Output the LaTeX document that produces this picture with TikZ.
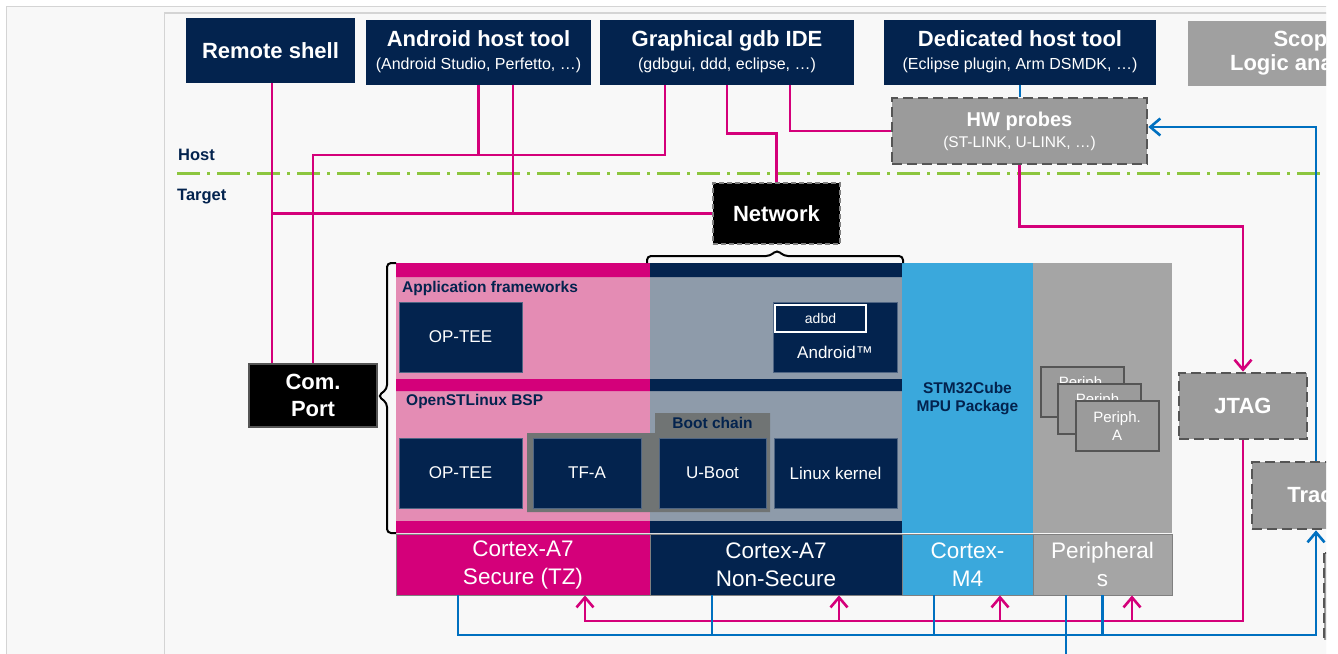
\documentclass[tikz,border=0pt]{standalone}
\usepackage{fontspec}
\setmainfont{Liberation Sans}
\usetikzlibrary{arrows.meta}
\definecolor{stnavy}{RGB}{3,35,78}
\definecolor{stpink}{RGB}{212,0,122}
\definecolor{lightpink}{RGB}{228,140,180}
\definecolor{slateblue}{RGB}{142,155,170}
\definecolor{cubeblue}{RGB}{58,168,220}
\definecolor{periphgray}{RGB}{165,165,165}
\definecolor{probegray}{RGB}{155,155,155}
\definecolor{scopegray}{RGB}{160,160,160}
\definecolor{bootgray}{RGB}{112,116,116}
\definecolor{edgegray}{RGB}{85,85,85}
\definecolor{hostgreen}{RGB}{140,198,63}
\definecolor{linkblue}{RGB}{0,112,192}
\definecolor{panelgray}{RGB}{248,248,248}
\definecolor{framegray}{RGB}{212,212,212}
\newcommand{\toolname}[1]{{\bfseries\fontsize{22}{24}\selectfont #1}}
\newcommand{\toolsub}[1]{{\fontsize{16}{18}\selectfont #1}}

\begin{document}
\begin{tikzpicture}[x=1pt,y=-1pt,
  tool/.style={fill=stnavy,text=white,align=center,inner sep=0pt,minimum height=65pt,
    font=\fontsize{16}{23}\selectfont},
  probe/.style={fill=probegray,draw=edgegray,line width=2.6pt,dash pattern=on 10pt off 5pt,
    text=white,align=center,inner sep=0pt,font=\bfseries\fontsize{22}{26}\selectfont},
  sw/.style={fill=stnavy,draw=stnavy!70!white,line width=0.8pt,text=white,inner sep=0pt,
    minimum height=70pt,font=\fontsize{17}{20}\selectfont},
  core/.style={draw=gray,line width=0.8pt,text=white,align=center,inner sep=0pt,
    minimum height=61pt,font=\fontsize{22.5}{28}\selectfont},
  tag/.style={text=stnavy,inner sep=0pt,font=\bfseries\fontsize{15.5}{18}\selectfont},
  pbox/.style={fill=probegray,draw=edgegray,line width=2pt,text=white,align=center,
    minimum width=83pt,minimum height=50pt,inner sep=0pt,font=\fontsize{15}{18}\selectfont},
  mag/.style={stpink,line width=2.6pt},
  lnk/.style={linkblue,line width=2.6pt},
  arr/.style={-{Straight Barb[length=10pt,width=17pt]}}
]
  \useasboundingbox (0,0) rectangle (1338,653);
  \fill[white] (0,0) rectangle (1338,653);
  \begin{scope}
  \clip (0,0) rectangle (1326,653);
  % frames:
  \draw[framegray,fill=panelgray,line width=1.2pt] (6.5,6.5) rectangle (1400,700);
  \draw[framegray,fill=panelgray,line width=1.2pt] (164.5,13) rectangle (1400,700);

  % host / target split:
  \draw[hostgreen,line width=3pt,dash pattern=on 23pt off 7pt on 3pt off 7pt] (177,173) -- (1330,173);
  \node[tag,anchor=west,font=\bfseries\fontsize{16.5}{20}\selectfont] (hostlbl) at (178,155) {Host};
  \node[tag,anchor=west,font=\bfseries\fontsize{16.5}{20}\selectfont] (targetlbl) at (177,197) {Target};

  % columns:
  \fill[lightpink] (396,263) rectangle (650,533);
  \fill[stpink] (396,263) rectangle (650,277) (396,379) rectangle (650,391) (396,521) rectangle (650,533);
  \fill[slateblue] (650,263) rectangle (902,533);
  \fill[stnavy] (650,263) rectangle (902,277) (650,379) rectangle (902,391) (650,521) rectangle (902,533);
  \fill[cubeblue] (902,263) rectangle (1033,533);
  \fill[periphgray] (1033,263) rectangle (1172,533);
  \fill[bootgray] (527,433) -- (655,433) -- (655,413) -- (770,413) -- (770,512) -- (527,512) -- cycle;

  \node[tag,anchor=west] (appfw) at (402,288) {Application frameworks};
  \node[tag,anchor=west] (bsp) at (406,401) {OpenSTLinux BSP};
  \node[tag] (bootlbl) at (712.5,423) {Boot chain};
  \node[tag,align=center] (cube) at (967.5,399) {STM32Cube\\MPU Package};

  \node[sw,minimum width=123pt] (optee1) at (460.5,337) {OP-TEE};
  \node[sw,minimum width=124pt] (android) at (835,337) {};
  \node[text=white,inner sep=0pt,font=\fontsize{17}{20}\selectfont] (androidtxt) at (835,352) {Android™};
  \node[fill=stnavy,draw=white,line width=2.5pt,text=white,inner sep=0pt,minimum width=91pt,
    minimum height=27pt,font=\fontsize{14}{16}\selectfont] (adbd) at (820.5,318.5) {adbd};
  \node[sw,minimum width=123pt] (optee2) at (460.5,473) {OP-TEE};
  \node[sw,minimum width=108pt] (tfa) at (587,473) {TF-A};
  \node[sw,minimum width=107pt] (uboot) at (712.5,473) {U-Boot};
  \node[sw,minimum width=123pt] (kernel) at (835.5,473) {Linux kernel};

  \node[pbox] (periph1) at (1082.5,391.5) {Periph.\\A};
  \node[pbox] (periph2) at (1099.5,408.5) {Periph.\\A};
  \node[pbox] (periph3) at (1117,426) {Periph.\\A};

  \node[core,fill=stpink,minimum width=254pt] (a7s) at (523,564.5) {Cortex-A7\\Secure (TZ)};
  \node[core,fill=stnavy,minimum width=252pt] (a7n) at (776,564.5) {Cortex-A7\\Non-Secure};
  \node[core,fill=cubeblue,minimum width=131pt] (m4) at (967.5,564.5) {Cortex-\\M4};
  \node[core,fill=periphgray,minimum width=139pt] (pcore) at (1102.5,564.5) {Peripheral\\s};

  % braces:
  \draw[line width=2pt,rounded corners=4pt] (396,263) -- (387,263) -- (387,389) -- (378,396)
    -- (387,403) -- (387,533) -- (396,533);
  \draw[line width=2pt,rounded corners=4pt] (647,263) -- (647,256) -- (770,256) -- (777,250)
    -- (784,256) -- (903,256) -- (903,263);

  % host side:
  \node[tool,minimum width=169pt,font=\bfseries\fontsize{22}{26}\selectfont] (rshell) at (270.5,50.5) {Remote shell};
  \node[tool,minimum width=225pt] (ahost) at (478.5,52) {\toolname{Android host tool}\\\toolsub{(Android Studio, Perfetto, …)}};
  \node[tool,minimum width=254pt] (gdbide) at (727,52) {\toolname{Graphical gdb IDE}\\\toolsub{(gdbgui, ddd, eclipse, …)}};
  \node[tool,minimum width=272pt] (dhost) at (1020,52) {\toolname{Dedicated host tool}\\\toolsub{(Eclipse plugin, Arm DSMDK, …)}};
  \node[tool,fill=scopegray,minimum width=237pt,font=\bfseries\fontsize{22}{24}\selectfont] (scope) at (1306.5,53) {Scope\\Logic analyzer};
  \node[probe,minimum width=255pt,minimum height=66pt,font=\fontsize{15.5}{21}\selectfont] (hwprobe) at (1019.5,131)
    {{\bfseries\fontsize{20}{22}\selectfont HW probes}\\{\fontsize{15.5}{18}\selectfont (ST-LINK, U-LINK, …)}};

  % target side:
  \node[fill=black,draw=gray,line width=2.4pt,dash pattern=on 5pt off 3pt,text=white,inner sep=0pt,
    minimum width=127pt,minimum height=61pt,font=\bfseries\fontsize{22}{26}\selectfont] (network) at (776.5,213.5) {Network};
  \node[fill=black,draw=edgegray,line width=2.5pt,text=white,align=center,inner sep=0pt,
    minimum width=128pt,minimum height=63pt,font=\bfseries\fontsize{22}{27}\selectfont] (comport) at (313,395.5) {Com.\\Port};
  \node[probe,minimum width=128pt,minimum height=66pt] (jtag) at (1243,406) {JTAG};
  \node[probe,minimum width=128pt,minimum height=67pt] (trace) at (1316,495.5) {Trace};
  \draw[probe] (1324,553) rectangle (1460,640);

  \coordinate (hostbus) at (0,155);
  \coordinate (netbus) at (0,213.5);
  \coordinate (coremag) at (0,621);
  \coordinate (corelnk) at (0,635);

  \begin{scope}[mag]
    % shell, adb and gdb:
    \draw ([xshift=1.5pt]rshell.south) -- ([xshift=1.5pt]rshell.south |- comport.north);
    \draw ([xshift=-62pt]gdbide.south) |- (comport.north |- hostbus) -- (comport.north);
    \draw (ahost.south) -- (ahost.south |- hostbus);
    \draw ([xshift=34.5pt]ahost.south) -- ([xshift=34.5pt]ahost.south |- netbus);
    \draw ([xshift=1.5pt]rshell.south |- netbus) -- (network.west);
    \draw (gdbide.south) -- ++(0,48.5) -| (network.north);
    \draw ([xshift=63pt]gdbide.south) |- (hwprobe.west);
    % probe to cores:
    \draw[arr] (hwprobe.south) -- ++(0,61) -| (jtag.north);
    \draw[arr] (jtag.south) |- ([xshift=62pt]a7s.south |- coremag) -- ([xshift=62pt]a7s.south);
    \foreach \c/\dx in {a7n/63,m4/32.5,pcore/29.5}
      \draw[arr] ([xshift=\dx pt]\c.south |- coremag) -- ([xshift=\dx pt]\c.south);
  \end{scope}
  \begin{scope}[lnk]
    % trace:
    \draw (dhost.south) -- (dhost.south |- hwprobe.north);
    \draw[arr] (trace.north) |- ([yshift=4pt]hwprobe.east);
    \draw[arr] ([xshift=-65pt]a7s.south) |- (trace.south |- corelnk) -- (trace.south);
    \foreach \c/\dx in {a7n/-64,m4/-33.5,pcore/0}
      \draw ([xshift=\dx pt]\c.south) -- ([xshift=\dx pt]\c.south |- corelnk);
    \draw ([xshift=-36.5pt]pcore.south) -- ++(0,70);
  \end{scope}
  \end{scope}
\end{tikzpicture}
\end{document}
